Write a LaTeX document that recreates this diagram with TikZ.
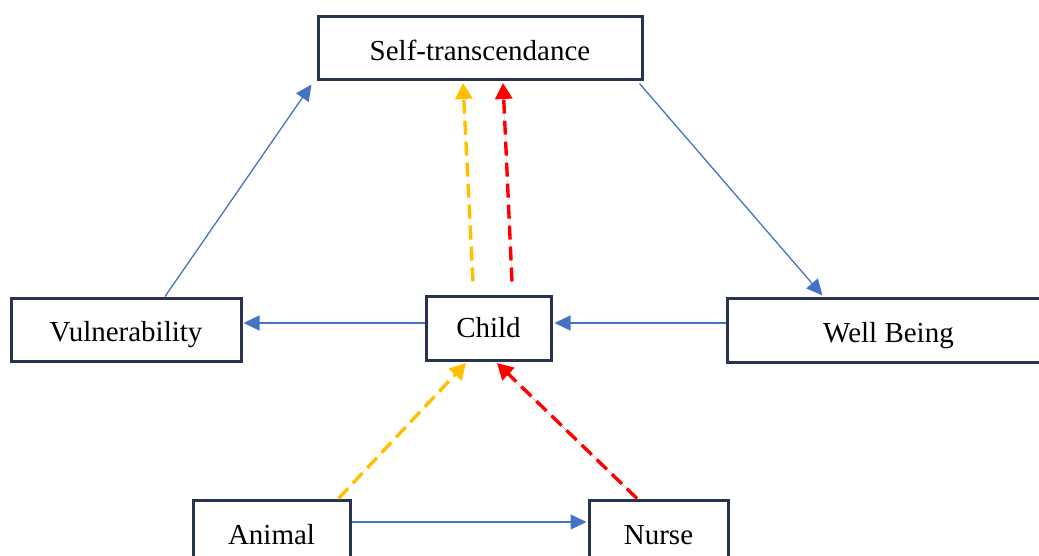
\documentclass[tikz,border=0pt]{standalone}
\usepackage{fontspec}
\setmainfont{Liberation Serif}
\usetikzlibrary{arrows.meta}
\definecolor{boxline}{HTML}{263250}
\definecolor{linkblue}{HTML}{4472C4}
\definecolor{amber}{HTML}{FFC000}
\definecolor{hotred}{HTML}{FF0000}
\begin{document}
\begin{tikzpicture}[x=1pt,y=-1pt,
  concept/.style={draw=boxline, line width=3pt, fill=white, rectangle,
    inner sep=0pt, text height=27pt, text depth=2.6pt,
    font=\fontsize{29}{34}\selectfont},
  link/.style={draw=linkblue, line width=1.3pt,
    -{Triangle[length=16pt,width=15pt]}},
  yellowlink/.style={draw=amber, line width=3.4pt, dash pattern=on 14pt off 7pt,
    -{Triangle[length=16pt,width=17pt]}, fill=amber},
  redlink/.style={draw=hotred, line width=3.4pt, dash pattern=on 14pt off 7pt,
    -{Triangle[length=16pt,width=17pt]}, fill=hotred}]
  \useasboundingbox (0,0) rectangle (1039,556);
  \clip (0,0) rectangle (1039,556);

  % concepts
  \node[concept, minimum width=324pt, minimum height=63pt] (self)  at (480,48.5) {Self-transcendance};
  \node[concept, minimum width=125pt, minimum height=64pt, text height=24pt, text depth=4.6pt] (child) at (488.5,328) {Child};
  \node[concept, minimum width=230pt, minimum height=63pt] (vul)   at (126,329.5) {Vulnerability};
  \node[concept, minimum width=323pt, minimum height=64pt] (well)  at (888.5,330) {Well Being};
  \node[concept, minimum width=157pt, minimum height=64pt] (animal) at (271.5,532) {Animal};
  \node[concept, minimum width=139pt, minimum height=64pt] (nurse)  at (658.5,532) {Nurse};

  % solid links
  \draw[link] ([xshift=39pt]vul.north) -- ([xshift=-5pt,yshift=-3pt]self.south west);
  \draw[link] ([xshift=-4pt,yshift=-2pt]self.south east) -- ([xshift=97pt,yshift=1pt]well.north west);
  \draw[link] ([yshift=5pt]child.west) -- ([xshift=1pt,yshift=6.5pt]vul.east);
  \draw[link] ([yshift=7pt]well.west) -- ([xshift=2pt,yshift=5pt]child.east);
  \draw[link] ([yshift=10pt]animal.east) -- ([xshift=-1pt,yshift=10pt]nurse.west);

  % dashed links
  \draw[yellowlink] ([xshift=-15.5pt,yshift=13pt]child.north) -- ([xshift=-17pt,yshift=-1.5pt]self.south);
  \draw[redlink] ([xshift=23.5pt,yshift=13pt]child.north) -- ([xshift=23pt,yshift=-1.5pt]self.south);
  \draw[yellowlink] ([xshift=-13pt]animal.north east) -- ([xshift=-22.5pt,yshift=-1.5pt]child.south);
  \draw[redlink] ([xshift=-21.5pt]nurse.north) -- ([xshift=8.5pt,yshift=-1.5pt]child.south);
\end{tikzpicture}
\end{document}
